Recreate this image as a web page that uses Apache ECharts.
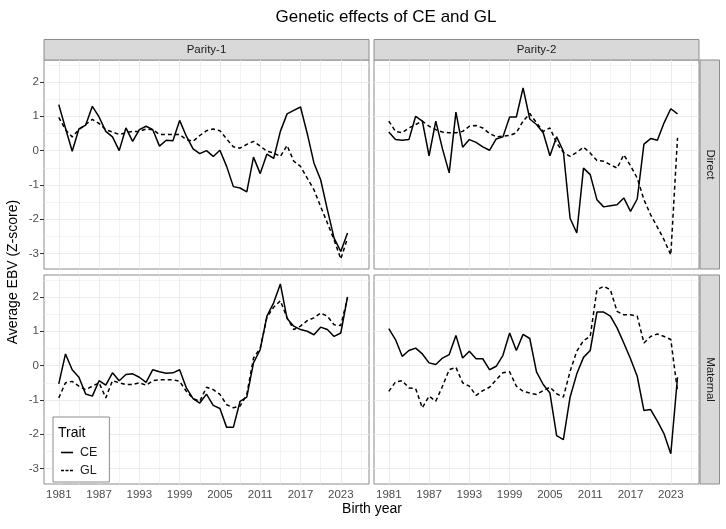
<!DOCTYPE html>
<html>
<head>
<meta charset="utf-8">
<script src="https://cdn.jsdelivr.net/npm/echarts@6/dist/echarts.min.js"></script>
<style>
  html, body { margin: 0; padding: 0; background: #fff; }
  #chart { width: 726px; height: 529px; }
</style>
</head>
<body>
<div id="chart"></div>
<script type="text/javascript">
  // birth years and tick positions
  var years = [1981, 1982, 1983, 1984, 1985, 1986, 1987, 1988, 1989, 1990, 1991, 1992, 1993, 1994, 1995,
    1996, 1997, 1998, 1999, 2000, 2001, 2002, 2003, 2004, 2005, 2006, 2007, 2008, 2009, 2010,
    2011, 2012, 2013, 2014, 2015, 2016, 2017, 2018, 2019, 2020, 2021, 2022, 2023, 2024];
  var xTicks = [1981, 1987, 1993, 1999, 2005, 2011, 2017, 2023];
  var xMinor = [1984, 1990, 1996, 2002, 2008, 2014, 2020, 2026];
  var yTicks = [-3, -2, -1, 0, 1, 2];
  var yMinor = [-2.5, -1.5, -0.5, 0.5, 1.5, 2.5];

  // Parity-1, Direct
  var ceP1Direct = [1.34, 0.65, -0.02, 0.63, 0.74, 1.29, 0.98, 0.56, 0.40, 0.00, 0.66, 0.27, 0.61, 0.71, 0.61,
    0.13, 0.30, 0.29, 0.88, 0.42, 0.05, -0.09, 0.00, -0.17, 0.01, -0.46, -1.05, -1.09, -1.20, -0.19,
    -0.67, -0.10, -0.23, 0.56, 1.07, 1.17, 1.27, 0.50, -0.36, -0.85, -1.72, -2.55, -2.94, -2.40];
  var glP1Direct = [0.97, 0.61, 0.40, 0.61, 0.76, 0.91, 0.79, 0.61, 0.54, 0.47, 0.52, 0.56, 0.56, 0.63, 0.61,
    0.47, 0.47, 0.47, 0.47, 0.32, 0.27, 0.44, 0.58, 0.63, 0.58, 0.34, 0.11, 0.07, 0.18, 0.27,
    0.13, -0.02, -0.07, -0.17, 0.15, -0.31, -0.46, -0.80, -1.14, -1.63, -2.11, -2.60, -3.16, -2.55];
  // Parity-2, Direct
  var ceP2Direct = [0.54, 0.32, 0.30, 0.32, 1.00, 0.86, -0.15, 0.86, 0.05, -0.65, 1.12, 0.10, 0.32, 0.24, 0.11,
    0.01, 0.34, 0.40, 0.98, 0.98, 1.83, 0.92, 0.76, 0.52, -0.15, 0.40, -0.02, -1.97, -2.40, -0.51,
    -0.70, -1.43, -1.64, -1.61, -1.58, -1.38, -1.77, -1.41, 0.19, 0.35, 0.30, 0.81, 1.22, 1.07];
  var glP2Direct = [0.86, 0.56, 0.52, 0.66, 0.76, 0.86, 0.71, 0.61, 0.54, 0.52, 0.52, 0.56, 0.71, 0.73, 0.66,
    0.50, 0.40, 0.42, 0.44, 0.52, 0.86, 1.08, 0.81, 0.56, 0.66, 0.22, -0.05, -0.17, -0.05, 0.10,
    -0.07, -0.29, -0.31, -0.41, -0.51, -0.12, -0.44, -0.80, -1.43, -1.87, -2.23, -2.60, -3.04, 0.37];
  // Parity-1, Maternal
  var ceP1Maternal = [-0.53, 0.34, -0.12, -0.34, -0.83, -0.89, -0.44, -0.57, -0.21, -0.44, -0.26, -0.24, -0.34, -0.49, -0.12,
    -0.18, -0.22, -0.21, -0.12, -0.65, -0.96, -1.09, -0.83, -1.16, -1.25, -1.80, -1.80, -1.04, -0.92, 0.08,
    0.47, 1.44, 1.83, 2.38, 1.37, 1.15, 1.05, 1.00, 0.90, 1.12, 1.05, 0.85, 0.95, 2.00];
  var glP1Maternal = [-0.94, -0.50, -0.46, -0.60, -0.70, -0.60, -0.50, -0.94, -0.44, -0.50, -0.55, -0.55, -0.50, -0.57, -0.44,
    -0.41, -0.41, -0.41, -0.46, -0.75, -0.96, -1.04, -0.63, -0.70, -0.84, -1.14, -1.23, -1.18, -0.84, 0.22,
    0.51, 1.41, 1.70, 1.89, 1.39, 1.05, 1.15, 1.31, 1.39, 1.53, 1.44, 1.19, 1.17, 1.97];
  // Parity-2, Maternal
  var ceP2Maternal = [1.08, 0.76, 0.27, 0.44, 0.51, 0.34, 0.08, 0.03, 0.22, 0.32, 0.88, 0.22, 0.42, 0.20, 0.20,
    -0.12, -0.02, 0.30, 0.95, 0.44, 0.91, 0.79, -0.18, -0.55, -0.80, -2.04, -2.16, -0.92, -0.24, 0.24,
    0.44, 1.56, 1.56, 1.44, 1.10, 0.66, 0.20, -0.31, -1.31, -1.28, -1.62, -1.99, -2.57, -0.34];
  var glP2Maternal = [-0.75, -0.48, -0.44, -0.65, -0.67, -1.23, -0.89, -1.04, -0.60, -0.12, -0.05, -0.50, -0.60, -0.87, -0.73,
    -0.63, -0.41, -0.21, -0.18, -0.60, -0.75, -0.80, -0.84, -0.73, -0.63, -0.82, -0.92, -0.17, 0.42, 0.73,
    0.85, 2.21, 2.31, 2.21, 1.58, 1.48, 1.48, 1.44, 0.66, 0.85, 0.92, 0.85, 0.76, -0.75];

  var myChart = echarts.init(document.getElementById('chart'));

  var font = "'Liberation Sans', Arial, Helvetica, sans-serif";
  var borderColor = '#8c8c8c';
  var gridColor = '#ebebeb';

  function pairs(vals) {
    return vals.map(function (v, i) {
      return [years[i], v];
    });
  }

  var panels = [
    { grid: { left: 44, top: 60, width: 325, height: 209 }, ce: ceP1Direct, gl: glP1Direct, xLab: false, yLab: true },
    { grid: { left: 374, top: 60, width: 325, height: 209 }, ce: ceP2Direct, gl: glP2Direct, xLab: false, yLab: false },
    { grid: { left: 44, top: 275, width: 325, height: 209 }, ce: ceP1Maternal, gl: glP1Maternal, xLab: true, yLab: true },
    { grid: { left: 374, top: 275, width: 325, height: 209 }, ce: ceP2Maternal, gl: glP2Maternal, xLab: true, yLab: false }
  ];

  var grids = [], xAxes = [], yAxes = [], series = [];

  panels.forEach(function (p, k) {
    grids.push(Object.assign({
      show: true,
      borderColor: borderColor,
      borderWidth: 1,
      backgroundColor: '#fff',
      containLabel: false
    }, p.grid));

    xAxes.push({
      type: 'value',
      gridIndex: k,
      min: 1978.8,
      max: 2027.2,
      axisLine: { show: false },
      splitLine: { show: false },
      axisTick: {
        show: p.xLab,
        length: 4,
        customValues: xTicks,
        lineStyle: { color: '#333' }
      },
      axisLabel: {
        show: p.xLab,
        customValues: xTicks,
        formatter: function (v) { return String(v); },
        color: '#4d4d4d',
        fontSize: 11.5,
        fontFamily: font,
        margin: 5
      }
    });

    yAxes.push({
      type: 'value',
      gridIndex: k,
      min: -3.45,
      max: 2.64,
      axisLine: { show: false },
      splitLine: { show: false },
      axisTick: {
        show: p.yLab,
        length: 4,
        customValues: yTicks,
        lineStyle: { color: '#333' }
      },
      axisLabel: {
        show: p.yLab,
        customValues: yTicks,
        color: '#4d4d4d',
        fontSize: 11.5,
        fontFamily: font,
        margin: 5
      }
    });

    var gridLines = [];
    xTicks.forEach(function (v) { gridLines.push({ xAxis: v, lineStyle: { width: 1 } }); });
    xMinor.forEach(function (v) { gridLines.push({ xAxis: v, lineStyle: { width: 0.6 } }); });
    yTicks.forEach(function (v) { gridLines.push({ yAxis: v, lineStyle: { width: 1 } }); });
    yMinor.forEach(function (v) { gridLines.push({ yAxis: v, lineStyle: { width: 0.6 } }); });

    series.push({
      name: 'grid' + k,
      type: 'line',
      xAxisIndex: k,
      yAxisIndex: k,
      data: [],
      z: 1,
      silent: true,
      markLine: {
        z: 1,
        silent: true,
        animation: false,
        symbol: ['none', 'none'],
        label: { show: false },
        emphasis: { disabled: true },
        lineStyle: { color: gridColor, type: 'solid' },
        data: gridLines
      }
    });

    series.push({
      name: 'CE',
      type: 'line',
      xAxisIndex: k,
      yAxisIndex: k,
      data: pairs(p.ce),
      showSymbol: false,
      symbol: 'none',
      z: 10,
      lineStyle: { color: '#000', width: 1.5, type: 'solid' },
      itemStyle: { color: '#000' }
    });

    series.push({
      name: 'GL',
      type: 'line',
      xAxisIndex: k,
      yAxisIndex: k,
      data: pairs(p.gl),
      showSymbol: false,
      symbol: 'none',
      z: 10,
      lineStyle: { color: '#000', width: 1.5, type: [4, 3] },
      itemStyle: { color: '#000' }
    });
  });

  function strip(x, y, w, h, text, vertical) {
    return {
      type: 'group',
      children: [
        {
          type: 'rect',
          shape: { x: x, y: y, width: w, height: h },
          style: { fill: '#d9d9d9', stroke: borderColor, lineWidth: 1 }
        },
        {
          type: 'text',
          x: x + w / 2,
          y: y + h / 2,
          rotation: vertical ? -Math.PI / 2 : 0,
          style: {
            text: text,
            fill: '#1a1a1a',
            font: '11.5px ' + font,
            textAlign: 'center',
            textVerticalAlign: 'middle'
          }
        }
      ]
    };
  }

  var solidIcon = 'path://M0,0 L12,0 L12,1.6 L0,1.6 Z';
  var dashIcon = 'path://M0,0 L3,0 L3,1.6 L0,1.6 Z M4.5,0 L7.5,0 L7.5,1.6 L4.5,1.6 Z M9,0 L12,0 L12,1.6 L9,1.6 Z';

  myChart.setOption({
    animation: false,
    title: {
      text: 'Genetic effects of CE and GL',
      left: 381,
      top: 4,
      textAlign: 'center',
      textStyle: { fontFamily: font, fontSize: 17, fontWeight: 'normal', color: '#000' }
    },
    legend: {
      data: [
        { name: 'CE', icon: solidIcon },
        { name: 'GL', icon: dashIcon }
      ],
      orient: 'vertical',
      left: 53,
      top: 417,
      padding: [29, 12, 5, 8],
      itemWidth: 12,
      itemHeight: 1.6,
      itemGap: 5,
      backgroundColor: '#fff',
      borderColor: borderColor,
      borderWidth: 1,
      borderRadius: 0,
      itemStyle: { color: '#000', borderWidth: 0 },
      textStyle: { fontFamily: font, fontSize: 12.5, color: '#1a1a1a', padding: [0, 0, 0, 2] }
    },
    grid: grids,
    xAxis: xAxes,
    yAxis: yAxes,
    series: series,
    graphic: [
      strip(44, 39.5, 325, 20.5, 'Parity-1', false),
      strip(374, 39.5, 325, 20.5, 'Parity-2', false),
      strip(700, 60, 19.5, 209, 'Direct', true),
      strip(700, 275, 19.5, 209, 'Maternal', true),
      {
        type: 'text',
        x: 58,
        y: 433,
        z: 100,
        style: { text: 'Trait', fill: '#000', font: '14px ' + font, textVerticalAlign: 'middle' }
      },
      {
        type: 'text',
        x: 372,
        y: 509,
        style: { text: 'Birth year', fill: '#000', font: '14px ' + font, textAlign: 'center', textVerticalAlign: 'middle' }
      },
      {
        type: 'text',
        x: 13,
        y: 272,
        rotation: Math.PI / 2,
        style: { text: 'Average EBV (Z-score)', fill: '#000', font: '14px ' + font, textAlign: 'center', textVerticalAlign: 'middle' }
      }
    ]
  });
</script>
</body>
</html>
